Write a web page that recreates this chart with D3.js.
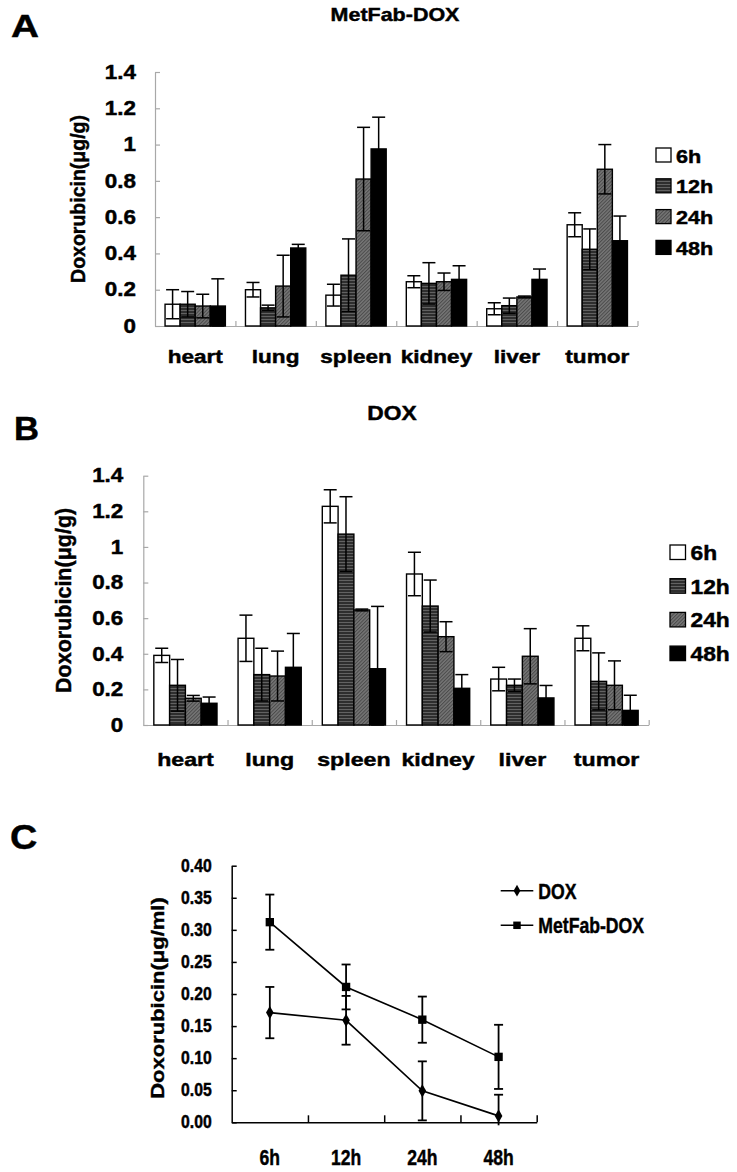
<!DOCTYPE html>
<html><head><meta charset="utf-8">
<script src="https://cdn.jsdelivr.net/npm/d3@7"></script>
<style>
body{margin:0;background:#fff}
svg{display:block}
text{font-family:"Liberation Sans",Arial,Helvetica,sans-serif;font-weight:bold;fill:#000;stroke:#000;stroke-width:0.45px}
</style>
</head><body>
<svg id="chart" width="737" height="1172"></svg>
<script>
// ---------- data ----------
const organs = ["heart", "lung", "spleen", "kidney", "liver", "tumor"];
const timepoints = ["6h", "12h", "24h", "48h"];

// Panel A: MetFab-DOX tissue levels (rows = organs, cols = time points)
const metfabMeans = [
  [0.12, 0.12, 0.11, 0.11],
  [0.20, 0.10, 0.22, 0.43],
  [0.17, 0.28, 0.81, 0.976],
  [0.244, 0.235, 0.244, 0.257],
  [0.095, 0.112, 0.16, 0.257],
  [0.558, 0.423, 0.864, 0.47]
];
const metfabErrors = [
  [0.08, 0.07, 0.065, 0.15],
  [0.04, 0.015, 0.17, 0.02],
  [0.06, 0.20, 0.285, 0.175],
  [0.033, 0.114, 0.048, 0.075],
  [0.033, 0.042, 0.005, 0.057],
  [0.066, 0.112, 0.136, 0.136]
];

// Panel B: DOX tissue levels
const doxMeans = [
  [0.391, 0.223, 0.15, 0.122],
  [0.487, 0.283, 0.275, 0.324],
  [1.228, 1.072, 0.646, 0.316],
  [0.848, 0.668, 0.496, 0.206],
  [0.258, 0.223, 0.386, 0.152],
  [0.487, 0.245, 0.223, 0.082]
];
const doxErrors = [
  [0.04, 0.145, 0.016, 0.035],
  [0.13, 0.148, 0.14, 0.19],
  [0.093, 0.21, 0.005, 0.35],
  [0.122, 0.146, 0.084, 0.077],
  [0.066, 0.035, 0.155, 0.07],
  [0.07, 0.16, 0.137, 0.085]
];

const barTicks = [0, 0.2, 0.4, 0.6, 0.8, 1, 1.2, 1.4];
const barTickLabels = ["0", "0.2", "0.4", "0.6", "0.8", "1", "1.2", "1.4"];

// Panel C: plasma levels
const plasmaTimes = ["6h", "12h", "24h", "48h"];
const plasmaSeries = ["DOX", "MetFab-DOX"];
const plasmaDox = [0.171, 0.159, 0.049, 0.010];
const plasmaDoxErr = [0.040, 0.038, 0.046, 0.033];
const plasmaMetfab = [0.312, 0.211, 0.160, 0.102];
const plasmaMetfabErr = [0.043, 0.035, 0.036, 0.050];
const plasmaTicks = [0, 0.05, 0.10, 0.15, 0.20, 0.25, 0.30, 0.35, 0.40];
const plasmaTickLabels = ["0.00", "0.05", "0.10", "0.15", "0.20", "0.25", "0.30", "0.35", "0.40"];

// ---------- drawing ----------
const svg = d3.select("#chart");
const defs = svg.append("defs");

// 12h: dark horizontal stripes
const p12 = defs.append("pattern").attr("id", "p12").attr("patternUnits", "userSpaceOnUse")
  .attr("width", 4).attr("height", 3);
p12.append("rect").attr("width", 4).attr("height", 3).attr("fill", "#2e2e2e");
p12.append("rect").attr("y", 1).attr("width", 4).attr("height", 1).attr("fill", "#626262");

// 24h: grey fine diagonal hatch
const p24 = defs.append("pattern").attr("id", "p24").attr("patternUnits", "userSpaceOnUse")
  .attr("width", 2.5).attr("height", 2.5).attr("patternTransform", "rotate(45)");
p24.append("rect").attr("width", 2.5).attr("height", 2.5).attr("fill", "#767676");
p24.append("rect").attr("width", 1).attr("height", 2.5).attr("fill", "#4a4a4a");

const fills = ["#ffffff", "url(#p12)", "url(#p24)", "#000000"];

function sText(parent, x, y, s, size, sx, anchor) {
  return parent.append("text")
    .attr("transform", `translate(${x},${y}) scale(${sx},1)`)
    .attr("text-anchor", anchor || "start")
    .style("font-size", size + "px")
    .text(s);
}

function barPanel(o) {
  const g = svg.append("g");
  const x = d3.scaleBand().domain(organs).range([o.x0, o.x1]).padding(0);
  const bw = x.bandwidth();
  const xi = d3.scaleBand().domain(timepoints).range([0.125 * bw, 0.875 * bw]).padding(0);
  const y = d3.scaleLinear().domain([0, 1.4]).range([o.y0, o.y1]);
  const axisCol = "#a8a8a8";

  // y axis
  const ya = g.append("g").attr("transform", `translate(${o.x0},0)`)
    .call(d3.axisLeft(y).tickValues(barTicks).tickFormat((d, i) => barTickLabels[i])
      .tickSizeInner(-5).tickSizeOuter(0).tickPadding(o.tickPad));
  ya.select(".domain").attr("stroke", axisCol).attr("stroke-width", 1.2);
  ya.selectAll(".tick line").attr("stroke", axisCol).attr("stroke-width", 1.2);
  ya.selectAll(".tick text").attr("x", -o.tickPad / o.tickSx)
    .attr("transform", `scale(${o.tickSx},1)`).attr("fill", null)
    .attr("font-size", null).attr("font-family", null)
    .style("font-size", o.tickSize + "px");

  // x axis (boundary ticks)
  const xb = d3.scaleLinear().domain([0, organs.length]).range([o.x0, o.x1]);
  const xa = g.append("g").attr("transform", `translate(0,${o.y0})`)
    .call(d3.axisBottom(xb).tickValues(d3.range(1, organs.length + 1)).tickSizeInner(-5).tickSizeOuter(0).tickFormat(""));
  xa.select(".domain").attr("stroke", axisCol).attr("stroke-width", 1.2);
  xa.selectAll(".tick line").attr("stroke", axisCol).attr("stroke-width", 1.2);

  // category labels
  const xl = g.append("g").attr("transform", `translate(0,${o.y0})`)
    .call(d3.axisBottom(x).tickSize(0));
  xl.select(".domain").remove();
  xl.selectAll(".tick text").attr("y", o.xLabelOff).attr("dy", null)
    .attr("transform", `scale(${o.xSx},1)`).attr("fill", null)
    .attr("font-size", null).attr("font-family", null)
    .style("font-size", o.xSize + "px");

  // bars
  organs.forEach((org, i) => {
    timepoints.forEach((t, j) => {
      const v = o.means[i][j];
      const bx = x(org) + xi(t);
      g.append("rect").attr("x", bx).attr("y", y(v))
        .attr("width", xi.bandwidth()).attr("height", y(0) - y(v))
        .attr("fill", fills[j]).attr("stroke", "#000").attr("stroke-width", 1.4);
    });
  });
  // error bars
  organs.forEach((org, i) => {
    timepoints.forEach((t, j) => {
      const v = o.means[i][j], e = o.errs[i][j];
      const cx = x(org) + xi(t) + xi.bandwidth() / 2;
      const yt = y(v + e), yb = y(Math.max(0, v - e));
      const eg = g.append("g").attr("stroke", "#000").attr("stroke-width", 1.5);
      eg.append("line").attr("x1", cx).attr("x2", cx).attr("y1", yt).attr("y2", yb);
      eg.append("line").attr("x1", cx - 6.5).attr("x2", cx + 6.5).attr("y1", yt).attr("y2", yt);
      eg.append("line").attr("x1", cx - 6.5).attr("x2", cx + 6.5).attr("y1", yb).attr("y2", yb);
    });
  });

  // y title
  g.append("text")
    .attr("transform", `translate(${o.yTitleX},${(o.y0 + o.y1) / 2}) rotate(-90)`)
    .attr("text-anchor", "middle").style("font-size", o.yTitleSize + "px")
    .text("Doxorubicin(μg/g)");

  // title
  sText(g, o.titleX, o.titleY, o.title, o.titleSize, o.titleSx, "middle");
  // panel letter
  sText(g, o.letterX, o.letterY, o.letter, o.letterSize, o.letterSx, "start");

  // legend
  timepoints.forEach((t, j) => {
    const by = o.legY + j * o.legStep;
    g.append("rect").attr("x", o.legX).attr("y", by - o.legBox + 0.5)
      .attr("width", o.legBox).attr("height", o.legBox - 1)
      .attr("fill", fills[j]).attr("stroke", "#000").attr("stroke-width", 1.3);
    sText(g, o.legX + o.legBox + 5, by, t, o.legSize, o.legSx, "start");
  });
}

barPanel({
  x0: 155, x1: 637.5, y0: 326, y1: 72,
  means: metfabMeans, errs: metfabErrors,
  tickPad: 19, tickSx: 1.15, tickSize: 19.5,
  xLabelOff: 37, xSx: 1.22, xSize: 18.5,
  yTitleX: 85, yTitleSize: 19.5,
  title: "MetFab-DOX", titleX: 395, titleY: 21, titleSize: 19, titleSx: 1.13,
  letter: "A", letterX: 11, letterY: 37, letterSize: 30.5, letterSx: 1.27,
  legX: 656, legY: 162.5, legStep: 30.8, legBox: 15, legSize: 18.5, legSx: 1.17
});

barPanel({
  x0: 143.3, x1: 648.7, y0: 725, y1: 475.7,
  means: doxMeans, errs: doxErrors,
  tickPad: 20, tickSx: 1.15, tickSize: 19.5,
  xLabelOff: 41, xSx: 1.25, xSize: 18.5,
  yTitleX: 71, yTitleSize: 21.5,
  title: "DOX", titleX: 392, titleY: 419.5, titleSize: 20, titleSx: 1.14,
  letter: "B", letterX: 14, letterY: 440, letterSize: 33, letterSx: 1.05,
  legX: 670, legY: 560, legStep: 33.7, legBox: 15.5, legSize: 20, legSx: 1.14
});

// ---------- Panel C ----------
(function () {
  const g = svg.append("g");
  const x0 = 231.7, x1 = 536.7, y0 = 1122.3, y1 = 865.7;
  const x = d3.scaleBand().domain(plasmaTimes).range([x0, x1]).padding(0);
  const y = d3.scaleLinear().domain([0, 0.4]).range([y0, y1]);

  const ya = g.append("g").attr("transform", `translate(${x0},0)`)
    .call(d3.axisLeft(y).tickValues(plasmaTicks).tickFormat((d, i) => plasmaTickLabels[i])
      .tickSizeInner(-5).tickSizeOuter(0).tickPadding(20));
  ya.select(".domain").attr("stroke", "#000").attr("stroke-width", 1.5);
  ya.selectAll(".tick line").attr("stroke", "#000").attr("stroke-width", 1.5);
  ya.selectAll(".tick text").attr("x", -20 / 0.9).attr("transform", "scale(0.9,1)").attr("fill", null)
    .attr("font-size", null).attr("font-family", null).style("font-size", "17.5px");

  const xb = d3.scaleLinear().domain([0, plasmaTimes.length]).range([x0, x1]);
  const xa = g.append("g").attr("transform", `translate(0,${y0})`)
    .call(d3.axisBottom(xb).tickValues(d3.range(1, plasmaTimes.length + 1)).tickSizeInner(-7).tickSizeOuter(0).tickFormat(""));
  xa.select(".domain").attr("stroke", "#000").attr("stroke-width", 1.5);
  xa.selectAll(".tick line").attr("stroke", "#000").attr("stroke-width", 1.5);

  const xl = g.append("g").attr("transform", `translate(0,${y0})`).call(d3.axisBottom(x).tickSize(0));
  xl.select(".domain").remove();
  xl.selectAll(".tick text").attr("y", 43).attr("dy", null).attr("transform", "scale(0.78,1)").attr("fill", null)
    .attr("font-size", null).attr("font-family", null).style("font-size", "22.5px");

  const cx = d => x(d) + x.bandwidth() / 2;
  const series = [
    { name: plasmaSeries[0], vals: plasmaDox, errs: plasmaDoxErr, marker: d3.symbolDiamond, size: 50 },
    { name: plasmaSeries[1], vals: plasmaMetfab, errs: plasmaMetfabErr, marker: d3.symbolSquare, size: 70 }
  ];
  const line = d3.line().x((d, i) => cx(plasmaTimes[i])).y(d => y(d));
  series.forEach(s => {
    g.append("path").attr("d", line(s.vals)).attr("fill", "none").attr("stroke", "#000").attr("stroke-width", 1.6);
    s.vals.forEach((v, i) => {
      const px = cx(plasmaTimes[i]);
      const lo = v - s.errs[i];
      const yt = y(v + s.errs[i]);
      const clipped = lo < 0;
      const yb = clipped ? y(0) + 3 : y(lo);
      const eg = g.append("g").attr("stroke", "#000").attr("stroke-width", 1.8);
      eg.append("line").attr("x1", px).attr("x2", px).attr("y1", yt).attr("y2", yb);
      eg.append("line").attr("x1", px - 4.5).attr("x2", px + 4.5).attr("y1", yt).attr("y2", yt);
      if (!clipped) eg.append("line").attr("x1", px - 4.5).attr("x2", px + 4.5).attr("y1", yb).attr("y2", yb);
      g.append("path").attr("d", d3.symbol().type(s.marker).size(s.size)())
        .attr("transform", `translate(${px},${y(v)})`).attr("fill", "#000");
    });
  });

  // legend
  const legY = [890.7, 925.3];
  series.forEach((s, k) => {
    g.append("line").attr("x1", 500.7).attr("x2", 533.3).attr("y1", legY[k]).attr("y2", legY[k])
      .attr("stroke", "#000").attr("stroke-width", 1.6);
    g.append("path").attr("d", d3.symbol().type(s.marker).size(s.size * 0.8)())
      .attr("transform", `translate(517,${legY[k]})`).attr("fill", "#000");
    sText(g, 538.3, legY[k] + 7.8, s.name, 21.5, 0.82, "start");
  });

  // y title
  g.append("text")
    .attr("transform", `translate(164,${(y0 + y1) / 2 + 4}) scale(0.85,1) rotate(-90)`)
    .attr("text-anchor", "middle").style("font-size", "22px")
    .text("Doxorubicin(μg/ml)");

  sText(g, 10, 849, "C", 35, 1.08, "start");
})();
</script>
</body></html>
